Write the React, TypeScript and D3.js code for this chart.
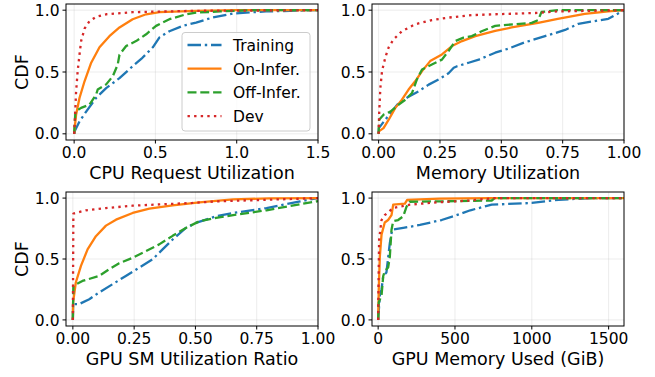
import React, { useEffect, useRef } from "react";
import * as d3 from "d3";

type Pt = [number, number];

// CPU request utilization
const cpuTraining: Pt[] = [[0, 0], [0.003, 0.02], [0.033, 0.1], [0.074, 0.18], [0.135, 0.29], [0.197, 0.37], [0.279, 0.45], [0.36, 0.547], [0.42, 0.615], [0.484, 0.7], [0.525, 0.78], [0.586, 0.83], [0.668, 0.873], [0.75, 0.9], [0.85, 0.94], [0.98, 0.973], [1.18, 0.99], [1.5, 1.0]];
const cpuOnInfer: Pt[] = [[0, 0], [0.012, 0.155], [0.033, 0.29], [0.064, 0.425], [0.105, 0.575], [0.156, 0.7], [0.217, 0.79], [0.279, 0.86], [0.36, 0.927], [0.443, 0.967], [0.525, 0.984], [0.75, 0.995], [1.0, 1.0], [1.5, 1.0]];
const cpuOffInfer: Pt[] = [[0, 0], [0.008, 0.18], [0.043, 0.21], [0.094, 0.236], [0.135, 0.317], [0.145, 0.358], [0.197, 0.4], [0.238, 0.466], [0.268, 0.56], [0.279, 0.64], [0.32, 0.71], [0.381, 0.75], [0.443, 0.805], [0.504, 0.873], [0.586, 0.927], [0.689, 0.967], [0.75, 0.98], [0.9, 0.99], [1.1, 1.0], [1.5, 1.0]];
const cpuDev: Pt[] = [[0, 0], [0.006, 0.155], [0.012, 0.34], [0.022, 0.51], [0.033, 0.64], [0.043, 0.75], [0.064, 0.85], [0.094, 0.91], [0.135, 0.946], [0.197, 0.967], [0.36, 0.984], [0.75, 0.995], [1.5, 1.0]];

// memory utilization
const memTraining: Pt[] = [[0, 0], [0.001, 0.046], [0.027, 0.114], [0.054, 0.18], [0.082, 0.25], [0.122, 0.3], [0.163, 0.344], [0.204, 0.398], [0.245, 0.44], [0.285, 0.49], [0.306, 0.534], [0.32, 0.547], [0.367, 0.575], [0.408, 0.6], [0.475, 0.656], [0.53, 0.69], [0.596, 0.74], [0.678, 0.79], [0.76, 0.84], [0.814, 0.89], [0.936, 0.93], [1.0, 1.0]];
const memOnInfer: Pt[] = [[0, 0], [0.001, 0.02], [0.02, 0.046], [0.041, 0.114], [0.068, 0.21], [0.095, 0.276], [0.122, 0.358], [0.149, 0.425], [0.177, 0.507], [0.21, 0.588], [0.258, 0.642], [0.299, 0.71], [0.34, 0.75], [0.394, 0.79], [0.475, 0.832], [0.542, 0.86], [0.65, 0.897], [0.73, 0.93], [0.84, 0.97], [0.936, 0.99], [1.0, 1.0]];
const memOffInfer: Pt[] = [[0, 0], [0.002, 0.114], [0.02, 0.155], [0.048, 0.18], [0.082, 0.236], [0.109, 0.276], [0.136, 0.33], [0.156, 0.44], [0.177, 0.52], [0.217, 0.56], [0.258, 0.6], [0.285, 0.67], [0.3125, 0.75], [0.346, 0.778], [0.38, 0.79], [0.42, 0.83], [0.475, 0.873], [0.5, 0.878], [0.624, 0.897], [0.65, 0.92], [0.664, 0.986], [0.73, 1.0], [1.0, 1.0]];
const memDev: Pt[] = [[0, 0], [0.002, 0.155], [0.007, 0.37], [0.014, 0.51], [0.027, 0.615], [0.041, 0.7], [0.061, 0.764], [0.095, 0.83], [0.149, 0.886], [0.217, 0.92], [0.285, 0.94], [0.38, 0.96], [0.475, 0.967], [0.65, 0.978], [0.73, 0.99], [1.0, 1.0]];

// GPU SM utilization ratio
const smTraining: Pt[] = [[0, 0], [0.001, 0.13], [0.026, 0.13], [0.067, 0.17], [0.107, 0.225], [0.162, 0.293], [0.216, 0.361], [0.271, 0.43], [0.325, 0.497], [0.366, 0.579], [0.407, 0.66], [0.461, 0.755], [0.502, 0.796], [0.543, 0.823], [0.584, 0.85], [0.654, 0.878], [0.79, 0.918], [0.927, 0.973], [1.0, 1.0]];
const smOnInfer: Pt[] = [[0, 0], [0.001, 0.144], [0.012, 0.307], [0.033, 0.443], [0.06, 0.579], [0.094, 0.687], [0.135, 0.774], [0.176, 0.823], [0.244, 0.878], [0.312, 0.913], [0.407, 0.94], [0.516, 0.965], [0.584, 0.978], [0.654, 0.99], [0.8, 0.997], [1.0, 1.0]];
const smOffInfer: Pt[] = [[0, 0], [0.002, 0.28], [0.039, 0.32], [0.107, 0.361], [0.148, 0.416], [0.189, 0.465], [0.244, 0.51], [0.298, 0.565], [0.352, 0.62], [0.407, 0.69], [0.461, 0.755], [0.516, 0.81], [0.584, 0.837], [0.654, 0.86], [0.79, 0.9], [0.927, 0.95], [1.0, 0.975]];
const smDev: Pt[] = [[0, 0], [0.002, 0.872], [0.053, 0.9], [0.135, 0.918], [0.244, 0.9375], [0.352, 0.948], [0.488, 0.96], [0.584, 0.973], [0.79, 0.986], [1.0, 1.0]];

// GPU memory used (GiB)
const gpuTraining: Pt[] = [[0, 0], [11, 0.2], [22, 0.25], [33, 0.36], [54, 0.39], [76, 0.63], [91, 0.74], [163, 0.755], [272, 0.78], [413, 0.82], [489, 0.85], [600, 0.9], [739, 0.946], [1000, 0.96], [1174, 0.986], [1391, 1.0], [1600, 1.0]];
const gpuOnInfer: Pt[] = [[0, 0], [4, 0.25], [11, 0.52], [22, 0.7], [43, 0.8], [65, 0.82], [87, 0.86], [98, 0.946], [174, 0.954], [189, 0.986], [400, 0.995], [739, 1.0], [1600, 1.0]];
const gpuOffInfer: Pt[] = [[0, 0], [4, 0.144], [22, 0.2], [33, 0.36], [43, 0.4], [65, 0.43], [76, 0.52], [87, 0.74], [98, 0.81], [130, 0.82], [163, 0.85], [185, 0.93], [206, 0.97], [500, 0.975], [739, 0.98], [760, 1.0], [1600, 1.0]];
const gpuDev: Pt[] = [[0, 0], [2, 0.25], [6.5, 0.66], [22, 0.82], [43, 0.86], [98, 0.92], [141, 0.93], [206, 0.946], [380, 0.965], [598, 0.98], [750, 1.0], [1600, 1.0]];

const seriesNames = ["Training", "On-Infer.", "Off-Infer.", "Dev"];
const colors = ["#1f77b4", "#ff7f0e", "#2ca02c", "#d62728"];
const dashes = ["13.5,3.8,2.4,3.8", null, "9,3.8", "2.4,4.2"];

const cpuTicks = [0, 0.5, 1.0, 1.5];
const fracTicks = [0, 0.25, 0.5, 0.75, 1.0];
const gpuTicks = [0, 500, 1000, 1500];
const cdfTicks = [0, 0.5, 1.0];

type Panel = {
  label: string;
  series: Pt[][];
  xDomain: [number, number];
  xTicks: number[];
  xFmt: (v: number) => string;
  left: number;
  top: number;
  height: number;
  showYLabel: boolean;
  legend: boolean;
};

const panels: Panel[] = [
  { label: "CPU Request Utilization", series: [cpuTraining, cpuOnInfer, cpuOffInfer, cpuDev], xDomain: [-0.05, 1.5], xTicks: cpuTicks, xFmt: d3.format(".1f"), left: 66, top: 4, height: 136, showYLabel: true, legend: true },
  { label: "Memory Utilization", series: [memTraining, memOnInfer, memOffInfer, memDev], xDomain: [-0.027, 1.0], xTicks: fracTicks, xFmt: d3.format(".2f"), left: 372, top: 4, height: 136, showYLabel: false, legend: false },
  { label: "GPU SM Utilization Ratio", series: [smTraining, smOnInfer, smOffInfer, smDev], xDomain: [-0.028, 1.0], xTicks: fracTicks, xFmt: d3.format(".2f"), left: 66, top: 192, height: 134, showYLabel: true, legend: false },
  { label: "GPU Memory Used (GiB)", series: [gpuTraining, gpuOnInfer, gpuOffInfer, gpuDev], xDomain: [-40, 1600], xTicks: gpuTicks, xFmt: d3.format("d"), left: 372, top: 192, height: 134, showYLabel: false, legend: false },
];

const W = 655;
const H = 377;
const PW = 252;

export default function App() {
  const ref = useRef<SVGSVGElement>(null);

  useEffect(() => {
    const svg = d3.select(ref.current);
    svg.selectAll("*").remove();
    const font = "DejaVu Sans, sans-serif";
    const tickSize = 15.5;
    const labelSize = 17.5;

    panels.forEach((p) => {
      const x = d3.scaleLinear().domain(p.xDomain).range([p.left, p.left + PW]);
      const y = d3.scaleLinear().domain([-0.05, 1.05]).range([p.top + p.height, p.top]);
      const g = svg.append("g");

      // grid
      g.selectAll(".gx").data(p.xTicks).enter().append("line")
        .attr("x1", (d) => x(d)).attr("x2", (d) => x(d))
        .attr("y1", p.top).attr("y2", p.top + p.height)
        .attr("stroke", "#b0b0b0").attr("stroke-opacity", 0.3).attr("stroke-width", 0.8);
      g.selectAll(".gy").data(cdfTicks).enter().append("line")
        .attr("x1", p.left).attr("x2", p.left + PW)
        .attr("y1", (d) => y(d)).attr("y2", (d) => y(d))
        .attr("stroke", "#b0b0b0").attr("stroke-opacity", 0.3).attr("stroke-width", 0.8);

      const clipId = `clip-${p.left}-${p.top}`;
      svg.append("clipPath").attr("id", clipId).append("rect")
        .attr("x", p.left).attr("y", p.top).attr("width", PW).attr("height", p.height);

      const line = d3.line<Pt>().x((d) => x(d[0])).y((d) => y(d[1]));
      const lines = g.append("g").attr("clip-path", `url(#${clipId})`);
      p.series.forEach((s, i) => {
        lines.append("path")
          .attr("d", line(s))
          .attr("fill", "none")
          .attr("stroke", colors[i])
          .attr("stroke-width", 2.3)
          .attr("stroke-dasharray", dashes[i])
          .attr("stroke-linejoin", "round");
      });

      // frame
      g.append("rect")
        .attr("x", p.left).attr("y", p.top).attr("width", PW).attr("height", p.height)
        .attr("fill", "none").attr("stroke", "#000").attr("stroke-width", 1);

      // ticks
      const bottom = p.top + p.height;
      p.xTicks.forEach((t) => {
        g.append("line").attr("x1", x(t)).attr("x2", x(t))
          .attr("y1", bottom).attr("y2", bottom + 3.5).attr("stroke", "#000");
        g.append("text").attr("x", x(t)).attr("y", bottom + 18)
          .attr("text-anchor", "middle").attr("font-family", font).attr("font-size", tickSize)
          .text(p.xFmt(t));
      });
      cdfTicks.forEach((t) => {
        g.append("line").attr("x1", p.left - 3.5).attr("x2", p.left)
          .attr("y1", y(t)).attr("y2", y(t)).attr("stroke", "#000");
        g.append("text").attr("x", p.left - 6.5).attr("y", y(t) + 5.6)
          .attr("text-anchor", "end").attr("font-family", font).attr("font-size", tickSize)
          .text(d3.format(".1f")(t));
      });

      g.append("text").attr("x", p.left + PW / 2).attr("y", bottom + 38.5)
        .attr("text-anchor", "middle").attr("font-family", font).attr("font-size", labelSize)
        .text(p.label);

      if (p.showYLabel) {
        g.append("text")
          .attr("transform", `translate(27.5, ${p.top + p.height / 2}) rotate(-90)`)
          .attr("text-anchor", "middle").attr("font-family", font).attr("font-size", labelSize)
          .text("CDF");
      }

      if (p.legend) {
        const lg = g.append("g");
        lg.append("rect")
          .attr("x", 182).attr("y", 32.5).attr("width", 128).attr("height", 98.5)
          .attr("rx", 3).attr("fill", "#fff").attr("fill-opacity", 0.8)
          .attr("stroke", "#cccccc").attr("stroke-width", 1);
        seriesNames.forEach((name, i) => {
          const cy = 45 + i * 23.7;
          lg.append("line").attr("x1", 187.5).attr("x2", 221.5).attr("y1", cy).attr("y2", cy)
            .attr("stroke", colors[i]).attr("stroke-width", 2.3)
            .attr("stroke-dasharray", dashes[i]);
          lg.append("text").attr("x", 233).attr("y", cy + 6)
            .attr("font-family", font).attr("font-size", tickSize).text(name);
        });
      }
    });
  }, []);

  return (
    <div style={{ position: "absolute", left: 0, top: 0 }}>
      <svg ref={ref} width={W} height={H} style={{ display: "block", background: "#fff" }} />
    </div>
  );
}
